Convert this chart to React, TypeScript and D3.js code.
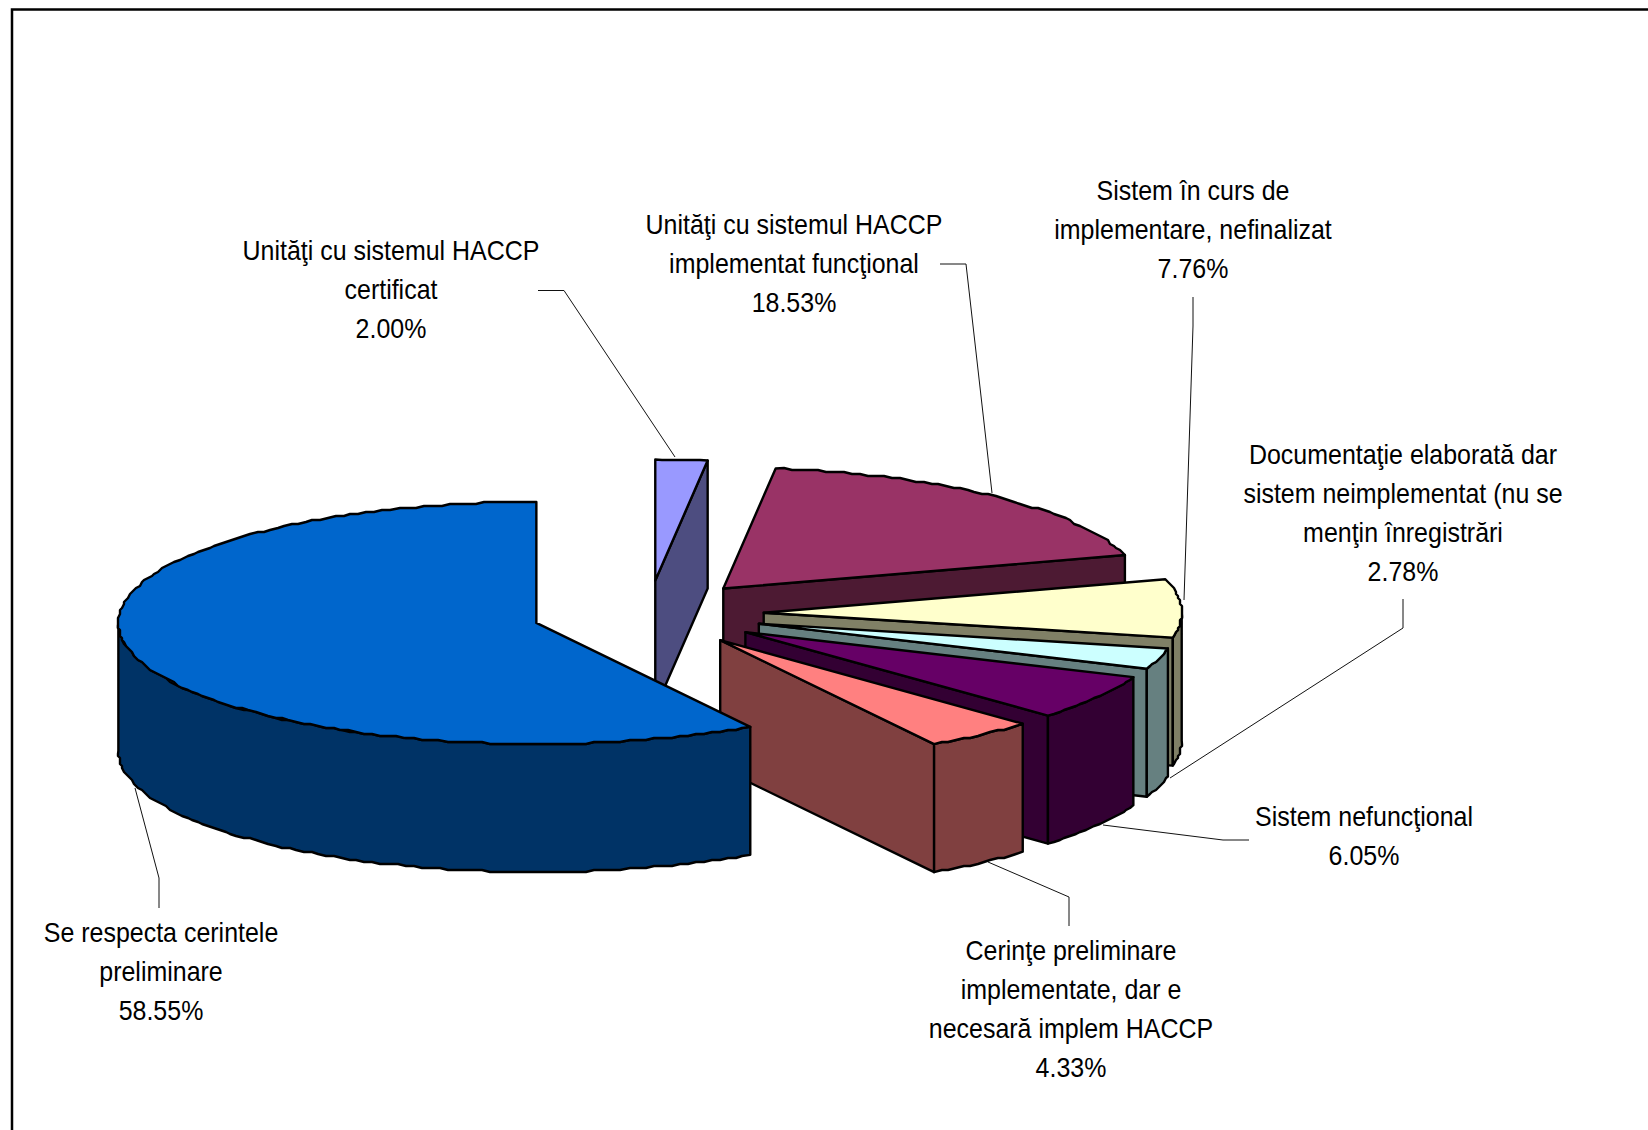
import React from "react";
import * as d3 from "d3";

const categories = [
  ["Unităţi cu sistemul HACCP", "certificat"],
  ["Unităţi cu sistemul HACCP", "implementat funcţional"],
  ["Sistem în curs de", "implementare, nefinalizat"],
  ["Documentaţie elaborată dar", "sistem neimplementat (nu se", "menţin înregistrări"],
  ["Sistem nefuncţional"],
  ["Cerinţe preliminare", "implementate, dar e", "necesară implem HACCP"],
  ["Se respecta cerintele", "preliminare"],
];
const values = [2.0, 18.53, 7.76, 2.78, 6.05, 4.33, 58.55];
const topColors = ["#9999FF", "#993366", "#FFFFCC", "#CCFFFF", "#660066", "#FF8080", "#0066CC"];
const sideColors = ["#4D4D80", "#4D1A33", "#808066", "#668080", "#330033", "#804040", "#003366"];

// layout
const WIDTH = 1648;
const HEIGHT = 1130;
const CX = 648;
const CY = 614;
const RX = 418;
const RY = 121;
const DEPTH = 128;
const EXPLODE = 0.277;
const FONT_SIZE = 27;
const TEXT_SQUEEZE = 0.925;
const LINE_HEIGHT = 39;
const labelCenters = [391, 794, 1193, 1403, 1364, 1071, 161];
const labelFirstBaselines = [260, 234, 200, 464, 826, 960, 942];
const leaders: [number, number][][] = [
  [[538, 290.5], [564, 290.5], [675, 457]],
  [[940, 264], [966, 264], [992, 493]],
  [[1193, 297], [1193, 326], [1184, 600]],
  [[1403, 599], [1403, 628], [1170, 778]],
  [[1249, 840], [1223, 840], [1103, 825]],
  [[1069, 926], [1069, 897], [988, 862]],
  [[159, 908], [159, 878], [135, 788]],
];

const line = d3.line<[number, number]>();
const pie = d3.pie<number>().sort(null).startAngle(0).endAngle(2 * Math.PI);
const arcs = pie(values);
const GRID = 2;
const snap = (v: number) => Math.round(v / GRID) * GRID;

function rimPoints(ax: number, ay: number, a0: number, a1: number): [number, number][] {
  const step = (1.2 * Math.PI) / 180;
  const n = Math.max(1, Math.ceil((a1 - a0) / step));
  return d3.range(n + 1).map((i) => {
    const a = a0 + ((a1 - a0) * i) / n;
    const x = ax + RX * Math.sin(a);
    const y = ay - RY * Math.cos(a);
    return i === 0 || i === n ? [x, y] : [snap(x), snap(y)];
  });
}

function Slice({ index }: { index: number }) {
  const { startAngle: a0, endAngle: a1 } = arcs[index];
  const mid = (a0 + a1) / 2;
  const ax = CX + EXPLODE * RX * Math.sin(mid);
  const ay = CY - EXPLODE * RY * Math.cos(mid);
  const edge = { fill: sideColors[index], stroke: "#000", strokeWidth: 2.4, strokeLinejoin: "round" as const };
  const faces: string[] = [];
  const cut = (a: number) => {
    const px = ax + RX * Math.sin(a);
    const py = ay - RY * Math.cos(a);
    const pts: [number, number][] = [[ax, ay], [px, py], [px, py + DEPTH], [ax, ay + DEPTH]];
    return line(pts) + "Z";
  };
  if (Math.sin(a1) > 1e-6) faces.push(cut(a1));
  if (Math.sin(a0) < -1e-6) faces.push(cut(a0));
  const r0 = Math.max(a0, Math.PI / 2);
  const r1 = Math.min(a1, (3 * Math.PI) / 2);
  if (r1 > r0) {
    const upper = rimPoints(ax, ay, r0, r1);
    const lower = upper.map(([x, y]) => [x, y + DEPTH] as [number, number]).reverse();
    faces.push(line([...upper, ...lower]) + "Z");
  }
  const top = line([[ax, ay], ...rimPoints(ax, ay, a0, a1)]) + "Z";
  return (
    <g>
      {faces.map((d, i) => (
        <path key={i} d={d} {...edge} />
      ))}
      <path d={top} {...edge} fill={topColors[index]} />
    </g>
  );
}

export default function App() {
  return (
    <svg
      width={WIDTH}
      height={HEIGHT}
      viewBox={`0 0 ${WIDTH} ${HEIGHT}`}
      style={{ position: "absolute", left: 0, top: 0, display: "block", background: "#fff" }}
    >
      <rect x={12} y={9.5} width={WIDTH + 20} height={HEIGHT + 20} fill="#fff" stroke="#000" strokeWidth={2.5} />
      {leaders.map((pts, i) => (
        <path key={i} d={line(pts) ?? ""} fill="none" stroke="#111" strokeWidth={1} />
      ))}
      {values.map((_, i) => (
        <Slice key={i} index={i} />
      ))}
      {categories.map((cat, i) => (
        <g key={i} fontFamily='"Liberation Sans", Arial, sans-serif' fontSize={FONT_SIZE} fill="#000" textAnchor="middle">
          {[...cat, `${values[i].toFixed(2)}%`].map((t, j) => (
            <text
              key={j}
              transform={`translate(${labelCenters[i]},${labelFirstBaselines[i] + j * LINE_HEIGHT}) scale(${TEXT_SQUEEZE},1)`}
            >
              {t}
            </text>
          ))}
        </g>
      ))}
    </svg>
  );
}
